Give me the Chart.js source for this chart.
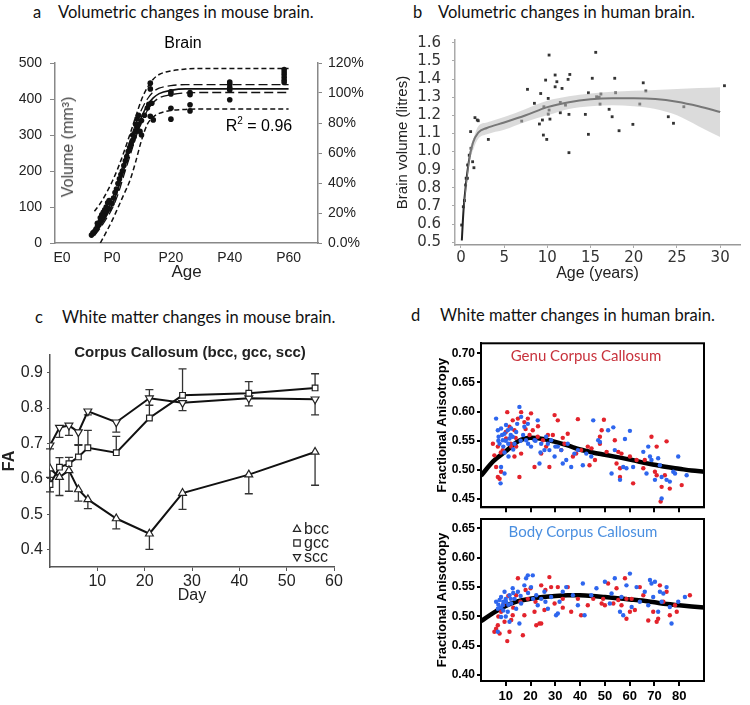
<!DOCTYPE html>
<html>
<head>
<meta charset="utf-8">
<script src="https://cdn.jsdelivr.net/npm/chart.js@4.4.1/dist/chart.umd.min.js"></script>
<style>
  body { margin: 0; background: #fff; }
  #page { position: relative; width: 750px; height: 705px; overflow: hidden; font-family: 'Liberation Sans', Arial, sans-serif; }
  canvas { position: absolute; }
  .t { position: absolute; white-space: nowrap; transform: translate(-50%, -50%); }
  .panel { position: absolute; font-family: Lato, sans-serif; font-size: 16.5px; color: #111; white-space: nowrap; transform: translateY(-50%); }
</style>
</head>
<body>
<div id="page">
  <canvas id="chartA" width="375" height="260" style="left:0;top:30px"></canvas>
  <canvas id="chartB" width="375" height="260" style="left:375px;top:30px"></canvas>
  <canvas id="chartC" width="375" height="275" style="left:0;top:330px"></canvas>
  <canvas id="chartD1" width="350" height="180" style="left:400px;top:335px"></canvas>
  <canvas id="chartD2" width="350" height="193" style="left:400px;top:512px"></canvas>

  <div class="panel" style="left:33px;top:12px">a</div>
  <div class="panel" style="left:58px;top:12px">Volumetric changes in mouse brain.</div>
  <div class="panel" style="left:413px;top:12px">b</div>
  <div class="panel" style="left:438px;top:12px">Volumetric changes in human brain.</div>
  <div class="panel" style="left:35px;top:317px">c</div>
  <div class="panel" style="left:62px;top:317px">White matter changes in mouse brain.</div>
  <div class="panel" style="left:411px;top:315px">d</div>
  <div class="panel" style="left:440px;top:315px">White matter changes in human brain.</div>

  <div class="t" style="left:183px;top:43px;font-size:16px">Brain</div>
  <div class="t" style="left:259px;top:125px;font-size:16px">R<sup style="font-size:10px">2</sup> = 0.96</div>
  <div class="t" style="left:68px;top:147px;font-size:16px;color:#444;transform:translate(-50%,-50%) rotate(-90deg)">Volume (mm³)</div>
  <div class="t" style="left:190px;top:351px;font-size:15px;font-weight:bold;color:#222">Corpus Callosum (bcc, gcc, scc)</div>
  <div class="t" style="left:586px;top:355px;font-family:Lato,sans-serif;font-size:15px;color:#c8323c">Genu Corpus Callosum</div>
  <div class="t" style="left:583px;top:531px;font-family:Lato,sans-serif;font-size:15px;color:#4a8fe0">Body Corpus Callosum</div>
</div>

<script>
// a: mouse brain volume
const mouseAgeTicks = [-17, 0, 20, 40, 60];
const mouseAgeLabels = ['E0', 'P0', 'P20', 'P40', 'P60'];
const mouseVolTicks = [0, 100, 200, 300, 400, 500];
const mousePctTicks = [0, 20, 40, 60, 80, 100, 120];
const mouseFitDays = [-6, -4, -2, 0, 2, 4, 6, 8, 10, 12, 14, 16, 20, 25, 30, 60];
const mouseFit     = [25, 48, 75, 105, 150, 205, 260, 310, 350, 383, 403, 415, 424, 428, 428, 428];
const mouseInnerHi = [30, 55, 85, 120, 168, 225, 282, 330, 370, 400, 420, 430, 437, 440, 440, 440];
const mouseInnerLo = [20, 42, 67, 95, 135, 188, 240, 292, 335, 368, 390, 403, 412, 417, 418, 418];
const mouseOuterHi = [88, 110, 138, 170, 208, 252, 300, 350, 398, 432, 455, 468, 478, 483, 485, 485];
const mouseOuterLo = [null, 0, 30, 62, 98, 135, 172, 225, 285, 330, 350, 360, 368, 371, 372, 372];
const mousePoints = [
  [-7, 22], [-6.5, 28], [-6, 32], [-5.5, 38], [-5, 45], [-5, 55], [-4.5, 50], [-4, 60], [-4, 70],
  [-3.5, 65], [-3.5, 78], [-3, 72], [-3, 85], [-2.5, 80], [-2.5, 92], [-2, 88], [-2, 100], [-1.5, 112],
  [-1, 95], [-1, 118], [0, 110], [0.5, 125], [1, 140], [1.5, 150], [2, 165], [2.5, 178], [3, 190],
  [3.5, 200], [4, 215], [4.5, 228], [5, 240], [5.5, 255], [6, 265], [6.5, 275], [7, 285], [7, 300],
  [7.5, 295], [8, 310], [8, 330], [8.5, 320], [8.5, 345], [9, 330], [9, 355], [9.5, 310], [10, 300],
  [10, 340], [11, 355], [12, 375], [12.5, 385], [13, 444], [13, 428], [13.5, 388], [13, 352], [14, 342],
  [20, 420], [20, 414], [20, 374], [20, 344], [26.5, 418], [26.5, 412], [26.5, 384], [26.5, 367],
  [40, 447], [40, 441], [40, 432], [40, 425], [40, 398],
  [58.5, 482], [58.5, 475], [58.5, 468], [58.5, 460], [58.5, 452], [58.5, 446]
];

// b: human brain volume
const humanAgeTicks = [0, 5, 10, 15, 20, 25, 30];
const humanVolTicks = [0.5, 0.6, 0.7, 0.8, 0.9, 1.0, 1.1, 1.2, 1.3, 1.4, 1.5, 1.6];
const humanFitAge = [0.1, 0.3, 0.6, 1.0, 1.4, 2.0, 3, 5, 7.5, 10, 12.5, 15, 17.5, 20, 22.5, 25, 27.5, 30];
const humanFit    = [0.51, 0.68, 0.83, 0.97, 1.05, 1.105, 1.13, 1.16, 1.20, 1.245, 1.272, 1.288, 1.294, 1.294, 1.29, 1.275, 1.25, 1.218];
const humanBandAge = [0.3, 1, 1.5, 2, 3, 5, 7.5, 10, 12.5, 15, 17.5, 20, 22.5, 25, 27.5, 30];
const humanBandHi  = [0.70, 1.00, 1.08, 1.14, 1.16, 1.19, 1.235, 1.28, 1.305, 1.32, 1.33, 1.335, 1.34, 1.345, 1.35, 1.355];
const humanBandLo  = [0.66, 0.94, 1.02, 1.07, 1.095, 1.12, 1.165, 1.20, 1.235, 1.25, 1.255, 1.25, 1.235, 1.20, 1.14, 1.08];
const humanPoints = [
  [0.08, 0.595], [0.27, 0.696], [0.4, 0.73], [0.54, 0.816], [0.6, 0.853], [0.75, 0.853], [0.77, 0.926],
  [0.96, 0.98], [1.16, 1.018], [1.12, 1.11], [1.35, 0.944], [1.5, 0.911], [1.62, 1.187], [1.89, 1.174],
  [2.0, 1.17], [3.17, 1.067], [7.03, 1.168], [7.7, 1.343], [8.5, 1.266], [9.08, 1.152], [9.23, 1.32],
  [9.43, 1.174], [9.54, 1.091], [9.8, 1.394], [9.6, 1.247], [9.93, 1.067], [10.1, 1.293], [10.1, 1.207],
  [10.2, 1.229], [10.3, 1.179], [10.2, 1.532], [10.9, 1.422], [10.9, 1.357], [11.1, 1.385], [11.5, 1.271],
  [11.5, 1.214], [11.7, 1.348], [12.1, 1.256], [12.4, 1.398], [12.5, 1.205], [12.5, 0.994], [12.6, 1.425],
  [14.4, 1.205], [14.75, 1.324], [14.75, 1.095], [15.2, 1.404], [15.6, 1.547], [15.7, 1.302], [16.0, 1.30],
  [16.2, 1.317], [16.1, 1.262], [17.15, 1.233], [17.5, 1.192], [17.8, 1.404], [17.9, 1.324], [18.3, 1.115],
  [19.9, 1.15], [20.7, 1.262], [21.1, 1.379], [21.4, 1.334], [24.0, 1.192], [24.6, 1.156], [25.8, 1.247],
  [30.5, 1.363]
];

// c: mouse corpus callosum FA
const ccDayTicks = [10, 20, 30, 40, 50, 60];
const ccFaTicks = [0.4, 0.5, 0.6, 0.7, 0.8, 0.9];
const ccDays = [0, 2, 4, 6, 8, 14, 21, 28, 42, 56];
const bcc    = [0.629, 0.605, 0.624, 0.570, 0.542, 0.488, 0.445, 0.560, 0.612, 0.676];
const gcc    = [0.584, 0.633, 0.643, 0.662, 0.688, 0.674, 0.772, 0.836, 0.842, 0.857];
const scc    = [0.695, 0.745, 0.751, 0.732, 0.791, 0.760, 0.828, 0.815, 0.828, 0.825];
const bccErr = [0.066, 0.052, 0.059, 0.033, 0.026, 0.029, 0.044, 0.046, 0.054, 0.094];
const gccErr = [0.020, 0.027, 0.018, 0.033, 0.049, 0.046, 0.080, 0.075, 0.033, 0.040];
const sccErr = [0.010, 0.028, 0.028, 0.035, 0.010, 0.028, 0.020, 0.022, 0.022, 0.044];

// d: human corpus callosum FA
const dAgeTicks = [10, 20, 30, 40, 50, 60, 70, 80];
const genuFaTicks = [0.45, 0.50, 0.55, 0.60, 0.65, 0.70];
const bodyFaTicks = [0.40, 0.45, 0.50, 0.55, 0.60, 0.65];
const dFitAge = [0, 5, 10, 15, 20, 25, 30, 35, 40, 45, 50, 55, 60, 65, 70, 75, 80, 85, 90];
const genuFit = [0.490, 0.515, 0.532, 0.549, 0.555, 0.553, 0.548, 0.542, 0.535, 0.530, 0.526, 0.522, 0.518, 0.513, 0.509, 0.505, 0.502, 0.499, 0.497];
const bodyFit = [0.492, 0.506, 0.518, 0.526, 0.530, 0.533, 0.535, 0.536, 0.536, 0.535, 0.533, 0.531, 0.529, 0.527, 0.524, 0.521, 0.519, 0.517, 0.515];
const genuBlue = [
  [6.1, 0.588], [6.8, 0.568], [7.1, 0.557], [7.5, 0.545], [8.1, 0.571], [8.8, 0.551], [9.5, 0.562], [10.1, 0.577],
  [10.8, 0.568], [11.5, 0.554], [12.2, 0.571], [12.8, 0.557], [13.5, 0.545], [14.2, 0.565], [14.6, 0.579], [15.5, 0.608],
  [16.2, 0.591], [17.5, 0.574], [18.2, 0.551], [18.9, 0.579], [20.2, 0.540], [21.6, 0.551], [22.9, 0.585], [23.6, 0.511],
  [24.3, 0.545], [25.6, 0.534], [26.3, 0.557], [27.6, 0.534], [28.3, 0.551], [29.7, 0.523], [31.0, 0.540], [32.4, 0.534],
  [33.0, 0.511], [34.4, 0.517], [35.0, 0.545], [36.4, 0.505], [37.7, 0.528], [39.1, 0.534], [41.1, 0.508], [42.5, 0.528],
  [44.5, 0.523], [8.1, 0.505], [9.5, 0.494], [7.9, 0.477], [11.1, 0.523],
  [7, 0.55], [8.5, 0.56], [9, 0.54], [10, 0.55], [11, 0.545], [12, 0.56], [13, 0.535], [9.5, 0.53],
  [16, 0.55], [17, 0.56], [19, 0.545], [22, 0.55], [24, 0.53], [27, 0.545], [30, 0.54],
  [45.3, 0.585], [53.4, 0.573], [51.3, 0.568], [48.0, 0.548], [60.1, 0.567], [58.1, 0.553], [47.3, 0.551], [54.0, 0.534],
  [58.7, 0.503], [57.4, 0.505], [65.5, 0.531], [67.5, 0.540], [68.2, 0.523], [68.8, 0.517], [66.8, 0.494], [71.5, 0.520],
  [72.2, 0.508], [72.9, 0.488], [74.9, 0.483], [76.2, 0.480], [77.6, 0.497], [79.6, 0.523], [78.3, 0.494], [83.0, 0.491],
  [72.9, 0.451], [52.7, 0.494], [56.1, 0.483], [61.4, 0.505], [70.2, 0.483]
];
const genuRed = [
  [4.8, 0.545], [5.4, 0.525], [6.1, 0.505], [6.8, 0.488], [7.5, 0.485], [8.1, 0.497], [8.8, 0.534], [10.1, 0.554],
  [10.6, 0.599], [11.5, 0.574], [12.2, 0.540], [12.8, 0.585], [13.5, 0.568], [14.2, 0.540], [14.9, 0.588], [15.5, 0.488],
  [16.2, 0.599], [17.5, 0.582], [18.9, 0.588], [19.6, 0.560], [20.2, 0.597], [20.9, 0.568], [21.6, 0.505], [22.9, 0.557],
  [24.3, 0.528], [25.0, 0.551], [26.3, 0.540], [27.6, 0.505], [29.0, 0.560], [29.7, 0.594], [31.0, 0.585], [32.4, 0.534],
  [33.7, 0.545], [35.0, 0.562], [37.1, 0.523], [38.4, 0.528], [39.1, 0.587], [40.4, 0.534], [43.1, 0.540], [43.8, 0.508],
  [6.8, 0.540], [13.5, 0.523], [16.2, 0.528],
  [8, 0.53], [10, 0.565], [12, 0.545], [14, 0.555], [18, 0.57], [23, 0.575], [27, 0.56], [33, 0.555],
  [49.6, 0.586], [48.7, 0.568], [48.0, 0.557], [48.0, 0.545], [50.7, 0.531], [54.0, 0.551], [55.4, 0.531], [56.7, 0.528],
  [56.1, 0.503], [56.1, 0.488], [61.4, 0.477], [62.8, 0.517], [66.1, 0.517], [68.8, 0.557], [70.9, 0.540], [74.9, 0.549],
  [70.2, 0.497], [70.9, 0.491], [72.9, 0.471], [74.2, 0.491], [76.2, 0.468], [81.0, 0.474], [44.6, 0.537], [46.0, 0.517],
  [54.7, 0.511], [60.1, 0.523], [65.5, 0.503], [72.5, 0.446]
];
const bodyBlue = [
  [6.1, 0.525], [6.8, 0.513], [7.5, 0.528], [8.1, 0.533], [8.8, 0.519], [9.5, 0.542], [10.1, 0.525], [10.8, 0.508],
  [11.5, 0.536], [12.2, 0.522], [12.8, 0.548], [13.5, 0.530], [14.2, 0.513], [14.9, 0.542], [15.5, 0.488], [16.2, 0.522],
  [17.5, 0.553], [18.2, 0.565], [18.9, 0.570], [20.2, 0.550], [20.9, 0.570], [22.3, 0.536], [22.9, 0.519], [24.3, 0.530],
  [25.6, 0.542], [27.0, 0.513], [28.3, 0.533], [30.3, 0.502], [31.7, 0.525], [33.0, 0.542], [34.4, 0.550], [37.1, 0.536],
  [39.1, 0.519], [41.1, 0.556], [41.8, 0.502], [44.5, 0.536], [8.1, 0.499], [11.5, 0.491], [31.0, 0.505], [6.8, 0.474],
  [7, 0.52], [8, 0.515], [9, 0.525], [10, 0.53], [11, 0.52], [12, 0.53], [13, 0.54], [9, 0.51], [10, 0.5],
  [16, 0.535], [19, 0.54], [21, 0.53], [26, 0.525],
  [46.6, 0.548], [50.0, 0.559], [54.0, 0.565], [52.7, 0.539], [56.7, 0.533], [56.1, 0.508], [57.4, 0.502], [58.7, 0.553],
  [60.1, 0.573], [62.8, 0.550], [64.1, 0.525], [66.1, 0.542], [67.5, 0.519], [68.2, 0.562], [68.8, 0.556], [69.5, 0.533],
  [70.2, 0.559], [71.5, 0.508], [72.2, 0.542], [72.9, 0.525], [73.6, 0.539], [74.9, 0.550], [76.2, 0.516], [76.9, 0.488],
  [79.6, 0.525], [82.3, 0.533], [60.8, 0.516], [52.0, 0.522]
];
const bodyRed = [
  [5.4, 0.474], [6.1, 0.479], [6.8, 0.485], [7.5, 0.471], [8.1, 0.508], [9.5, 0.491], [10.6, 0.458], [11.5, 0.474],
  [12.2, 0.494], [12.8, 0.502], [14.2, 0.536], [14.9, 0.565], [15.9, 0.525], [16.9, 0.468], [17.5, 0.502], [18.9, 0.530],
  [20.0, 0.548], [21.6, 0.508], [22.3, 0.485], [23.6, 0.488], [24.3, 0.553], [25.6, 0.511], [27.6, 0.567], [28.3, 0.550],
  [29.7, 0.522], [31.0, 0.550], [33.0, 0.530], [35.0, 0.550], [36.4, 0.508], [39.1, 0.530], [40.4, 0.502], [43.1, 0.519],
  [24.3, 0.488], [7, 0.5], [9, 0.52], [11, 0.535], [13, 0.515], [18, 0.545], [22, 0.525], [26, 0.545], [33, 0.515],
  [45.3, 0.530], [48.7, 0.522], [49.3, 0.530], [51.3, 0.556], [54.7, 0.548], [55.4, 0.528], [56.7, 0.519], [58.1, 0.565],
  [58.7, 0.530], [58.7, 0.496], [60.1, 0.508], [60.8, 0.530], [62.1, 0.511], [64.1, 0.550], [65.5, 0.536], [67.5, 0.493],
  [69.5, 0.508], [70.9, 0.491], [71.5, 0.496], [72.2, 0.553], [73.6, 0.525], [74.9, 0.542], [76.2, 0.502], [78.3, 0.519],
  [79.0, 0.508], [84.3, 0.536], [50.0, 0.519], [53.4, 0.522]
];

Chart.defaults.animation = false;
Chart.defaults.responsive = false;
Chart.defaults.events = [];
Chart.defaults.plugins.legend.display = false;
Chart.defaults.plugins.tooltip.enabled = false;
Chart.defaults.font.family = "'Liberation Sans', Arial, sans-serif";
Chart.defaults.color = '#222';
Chart.defaults.layout.autoPadding = false;

const pts = (xs, ys) => xs.map((x, i) => ({ x, y: ys[i] }));
const pairs = list => list.map(([x, y]) => ({ x, y }));
const useTicks = vals => s => { s.ticks = vals.map(v => ({ value: v })); };
// pin the axis box size so the plot area lands where the reference has it
const fixSize = (w, h) => s => {
  if (w !== undefined) s.width = w;
  if (h !== undefined) s.height = h;
  s.paddingLeft = s.paddingRight = s.paddingTop = s.paddingBottom = 0;
};
const curve = (data, extra) => Object.assign({
  data, borderColor: '#111', borderWidth: 1.5, pointRadius: 0, fill: false,
  cubicInterpolationMode: 'monotone'
}, extra);

// error bars for panel c, drawn under the markers
const errorBars = {
  id: 'errorBars',
  beforeDatasetsDraw(chart) {
    const { ctx, scales: { x, y } } = chart;
    ctx.save();
    ctx.strokeStyle = '#333';
    ctx.lineWidth = 1.3;
    chart.data.datasets.forEach(ds => {
      if (!ds.err) return;
      ds.data.forEach((p, i) => {
        const px = x.getPixelForValue(p.x);
        const y0 = y.getPixelForValue(p.y);
        const y1 = y.getPixelForValue(p.y + ds.errDir * ds.err[i]);
        ctx.beginPath();
        ctx.moveTo(px, y0); ctx.lineTo(px, y1);
        ctx.moveTo(px - 4, y1); ctx.lineTo(px + 4, y1);
        ctx.stroke();
      });
    });
    ctx.restore();
  }
};

function drawMarker(ctx, style, x, y, r) {
  ctx.beginPath();
  if (style === 'rect') {
    ctx.rect(x - r * 0.8, y - r * 0.8, r * 1.6, r * 1.6);
  } else {
    const s = style === 'down' ? -1 : 1;
    ctx.moveTo(x, y - s * r);
    ctx.lineTo(x + r * 0.9, y + s * r * 0.6);
    ctx.lineTo(x - r * 0.9, y + s * r * 0.6);
    ctx.closePath();
  }
  ctx.fill();
  ctx.stroke();
}

const ccLegend = {
  id: 'ccLegend',
  afterDraw(chart) {
    const { ctx, chartArea } = chart;
    ctx.save();
    ctx.font = "16px 'Liberation Sans', Arial, sans-serif";
    ctx.textBaseline = 'middle';
    chart.data.datasets.forEach((ds, i) => {
      const y = chartArea.bottom - 38 + i * 14;
      const x = chartArea.right - 37;
      ctx.fillStyle = '#fff';
      ctx.strokeStyle = '#222';
      ctx.lineWidth = 1.2;
      drawMarker(ctx, ds.marker, x, y, 4);
      ctx.fillStyle = '#222';
      ctx.fillText(ds.label, x + 7, y + 1);
    });
    ctx.restore();
  }
};

const frame = {
  id: 'frame',
  afterDraw(chart) {
    const { ctx, chartArea: a } = chart;
    ctx.save();
    ctx.strokeStyle = '#000';
    ctx.lineWidth = 2;
    ctx.strokeRect(a.left, a.top, a.right - a.left, a.bottom - a.top);
    ctx.restore();
  }
};

// ---------- a ----------
new Chart(document.getElementById('chartA'), {
  type: 'line',
  data: {
    datasets: [
      curve(pts(mouseFitDays, mouseOuterHi), { borderDash: [5, 3] }),
      curve(pts(mouseFitDays, mouseOuterLo), { borderDash: [5, 3] }),
      curve(pts(mouseFitDays, mouseInnerHi), { borderDash: [9, 4], borderWidth: 1.3 }),
      curve(pts(mouseFitDays, mouseInnerLo), { borderDash: [9, 4], borderWidth: 1.3 }),
      curve(pts(mouseFitDays, mouseFit), { borderWidth: 1.6 }),
      { data: pairs(mousePoints), showLine: false, pointRadius: 2.8, pointBorderWidth: 0, pointBackgroundColor: '#111' }
    ]
  },
  options: {
    layout: { padding: { left: 0, right: 0, top: 33, bottom: 0 } },
    scales: {
      x: {
        type: 'linear', min: -19.4, max: 70,
        afterBuildTicks: useTicks(mouseAgeTicks),
        ticks: { callback: v => mouseAgeLabels[mouseAgeTicks.indexOf(v)], font: { size: 14 }, padding: 7, maxRotation: 0, autoSkip: false },
        grid: { display: false, drawTicks: false },
        border: { color: '#888', width: 1.5 },
        title: { display: true, text: 'Age', font: { size: 17 }, padding: { top: 0, bottom: 7 } },
        afterFit: fixSize(undefined, 47)
      },
      y: {
        position: 'left', min: 0, max: 500,
        afterBuildTicks: useTicks(mouseVolTicks),
        ticks: { font: { size: 14 }, padding: 8, autoSkip: false },
        grid: { drawOnChartArea: false, tickLength: 5, color: '#888' },
        border: { color: '#888', width: 1.5 },
        afterFit: fixSize(55)
      },
      y2: {
        position: 'right', min: 0, max: 120,
        afterBuildTicks: useTicks(mousePctTicks),
        ticks: { callback: v => v === 0 ? '0.0%' : v + '%', font: { size: 14 }, padding: 6, autoSkip: false },
        grid: { drawOnChartArea: false, tickLength: 4, color: '#888' },
        border: { color: '#888', width: 1.5 },
        afterFit: fixSize(57)
      }
    }
  }
});

// ---------- b ----------
new Chart(document.getElementById('chartB'), {
  type: 'line',
  data: {
    datasets: [
      curve(pts(humanBandAge, humanBandHi), { borderWidth: 0, borderColor: 'rgba(0,0,0,0)', fill: '+1', backgroundColor: 'rgba(190,190,190,0.55)' }),
      curve(pts(humanBandAge, humanBandLo), { borderWidth: 0, borderColor: 'rgba(0,0,0,0)' }),
      curve(pts(humanFitAge, humanFit), { borderColor: '#222', borderWidth: 2 }),
      { data: pairs(humanPoints), showLine: false, pointStyle: 'rect', pointRadius: 2, pointBorderWidth: 0, pointBackgroundColor: '#333' }
    ]
  },
  options: {
    layout: { padding: { left: 0, right: 10, top: 10, bottom: 0 } },
    scales: {
      x: {
        type: 'linear', min: -0.69, max: 32.3,
        afterBuildTicks: useTicks(humanAgeTicks),
        ticks: { font: { family: "'DejaVu Sans', sans-serif", size: 15 }, padding: 1, maxRotation: 0, autoSkip: false, color: '#333' },
        grid: { drawOnChartArea: false, tickLength: 3, color: '#aaa' },
        border: { color: '#999', width: 1.5, dash: [2, 2] },
        title: { display: true, text: 'Age (years)', font: { size: 16 }, padding: { top: 0, bottom: 7 } },
        afterFit: fixSize(undefined, 45)
      },
      y: {
        min: 0.485, max: 1.615,
        afterBuildTicks: useTicks(humanVolTicks),
        ticks: { callback: v => v.toFixed(1), font: { family: "'DejaVu Sans', sans-serif", size: 15 }, padding: 11, color: '#333', autoSkip: false },
        grid: { drawOnChartArea: false, tickLength: 3, color: '#aaa' },
        border: { color: '#aaa', width: 1.5 },
        title: { display: true, text: 'Brain volume (litres)', font: { family: "'Liberation Sans Narrow', 'Liberation Sans', sans-serif", size: 15 }, padding: { top: 19, bottom: 0 } },
        afterFit: fixSize(80)
      }
    }
  }
});

// ---------- c ----------
const ccSeries = (label, vals, err, dir, marker, rot) => ({
  label, marker, err, errDir: dir,
  data: pts(ccDays, vals),
  borderColor: '#111', borderWidth: 2, fill: false,
  pointStyle: marker === 'rect' ? 'rect' : 'triangle', pointRotation: rot,
  pointRadius: marker === 'rect' ? 4 : 4.5, pointBackgroundColor: '#fff', pointBorderColor: '#222', pointBorderWidth: 1.2
});
new Chart(document.getElementById('chartC'), {
  type: 'line',
  data: {
    datasets: [
      ccSeries('bcc', bcc, bccErr, -1, 'up', 0),
      ccSeries('gcc', gcc, gccErr, 1, 'rect', 0),
      ccSeries('scc', scc, sccErr, -1, 'down', 180)
    ]
  },
  plugins: [errorBars, ccLegend],
  options: {
    layout: { padding: { left: 0, right: 41, top: 25, bottom: 0 } },
    scales: {
      x: {
        type: 'linear', min: 0, max: 60,
        afterBuildTicks: useTicks(ccDayTicks),
        ticks: { font: { size: 16 }, padding: 1, maxRotation: 0, autoSkip: false },
        grid: { drawOnChartArea: false, tickLength: 4, color: '#555' },
        border: { color: '#555', width: 1.5 },
        title: { display: true, text: 'Day', font: { size: 16 }, padding: { top: 0, bottom: 0 } },
        afterFit: fixSize(undefined, 38)
      },
      y: {
        min: 0.351, max: 0.95,
        afterBuildTicks: useTicks(ccFaTicks),
        ticks: { callback: v => v.toFixed(1), font: { size: 16 }, padding: 4, autoSkip: false },
        grid: { drawOnChartArea: false, tickLength: 3, color: '#555' },
        border: { color: '#555', width: 1.5 },
        title: { display: true, text: 'FA', font: { size: 16, weight: 'bold' }, padding: { top: 0, bottom: 0 } },
        afterFit: fixSize(50)
      }
    }
  }
});

// ---------- d ----------
function faPanel(id, fit, blue, red, yMin, yMax, yTicks, showX, xHeight, top) {
  return new Chart(document.getElementById(id), {
    type: 'line',
    data: {
      datasets: [
        { data: pairs(blue), showLine: false, pointRadius: 2.2, pointBorderWidth: 0, pointBackgroundColor: '#2e66ee' },
        { data: pairs(red), showLine: false, pointRadius: 2.2, pointBorderWidth: 0, pointBackgroundColor: '#e3232c' },
        curve(pts(dFitAge, fit), { borderColor: '#000', borderWidth: 4.5 })
      ]
    },
    plugins: [frame],
    options: {
      layout: { padding: { left: 0, right: 46, top: top, bottom: 0 } },
      scales: {
        x: {
          type: 'linear', min: 0, max: 90,
          afterBuildTicks: useTicks(dAgeTicks),
          ticks: { display: showX, font: { size: 13, weight: 'bold' }, padding: 3, color: '#000', maxRotation: 0, autoSkip: false },
          grid: { drawOnChartArea: false, tickLength: 5, color: '#000', lineWidth: 2 },
          border: { color: '#000', width: 2 },
          afterFit: fixSize(undefined, xHeight)
        },
        y: {
          min: yMin, max: yMax,
          afterBuildTicks: useTicks(yTicks),
          ticks: { callback: v => v.toFixed(2), font: { size: 12, weight: 'bold' }, padding: 2, color: '#000', autoSkip: false },
          grid: { drawOnChartArea: false, tickLength: 4, color: '#000', lineWidth: 2 },
          border: { color: '#000', width: 2 },
          title: { display: true, text: 'Fractional Anisotropy', font: { size: 13, weight: 'bold' }, color: '#000', padding: { top: 35, bottom: 0 } },
          afterFit: fixSize(81)
        }
      }
    }
  });
}
faPanel('chartD1', genuFit, genuBlue, genuRed, 0.436, 0.717, genuFaTicks, false, 7.7, 8.3);
faPanel('chartD2', bodyFit, bodyBlue, bodyRed, 0.39, 0.666, bodyFaTicks, true, 24, 7);
</script>
</body>
</html>
